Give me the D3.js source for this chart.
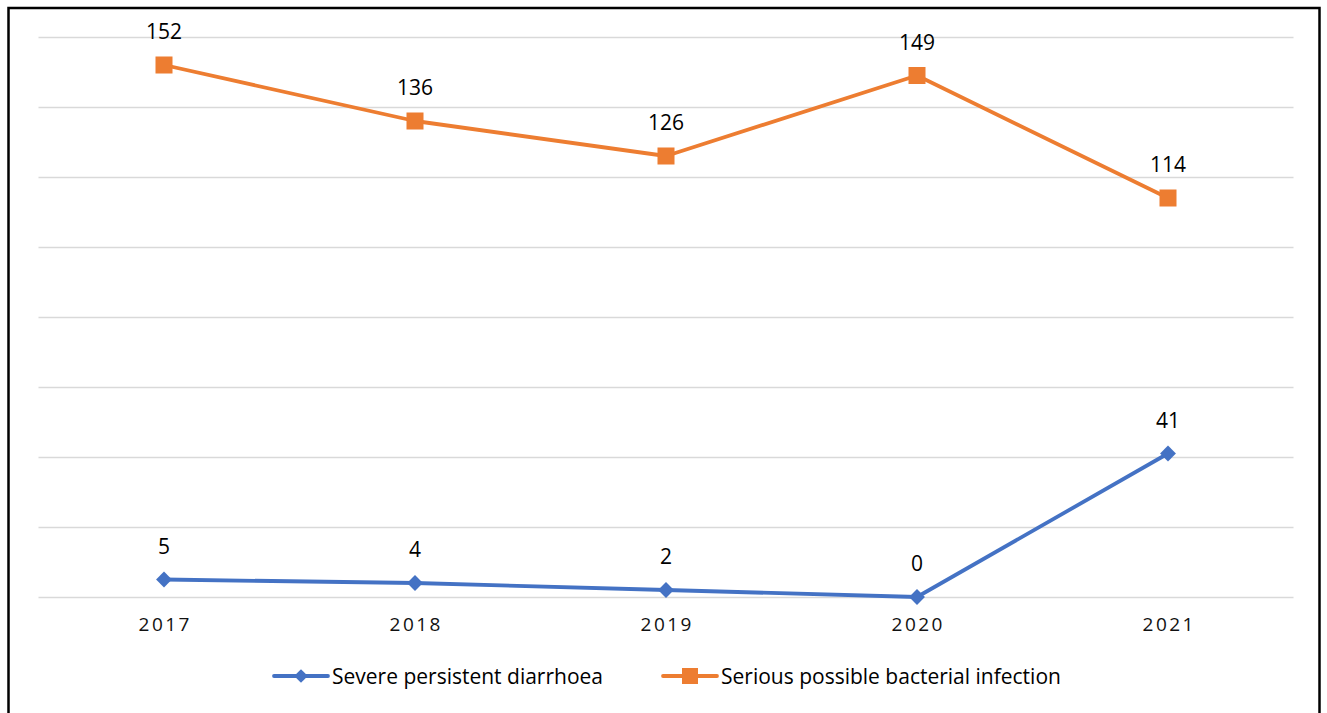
<!DOCTYPE html>
<html><head><meta charset="utf-8">
<script src="https://cdn.jsdelivr.net/npm/d3@7"></script>
<style>body{margin:0;background:#fff;}svg{display:block;}</style>
</head><body>
<svg id="c" width="1327" height="713"></svg>
<script>
const years = ["2017","2018","2019","2020","2021"];
const diarrhoea = [5, 4, 2, 0, 41];
const infection = [152, 136, 126, 149, 114];
const seriesNames = ["Severe persistent diarrhoea", "Serious possible bacterial infection"];
const yTicks = [0,20,40,60,80,100,120,140,160];
const colors = ["#4472C4", "#ED7D31"];

const svg = d3.select("#c");
const font = "'Open Sans', 'Liberation Sans', sans-serif";

// outer frame
svg.append("rect").attr("x", 8.5).attr("y", 8).attr("width", 1311).attr("height", 720)
  .attr("fill", "none").attr("stroke", "#000").attr("stroke-width", 2.5);

const x = d3.scaleBand().domain(years).range([38.5, 1293.5]);
const y = d3.scaleLinear().domain([0, 160]).range([597, 37]);

// gridlines
svg.append("g").attr("transform", "translate(38.5,0)")
  .call(d3.axisLeft(y).tickValues(yTicks).tickSize(-1255).tickFormat(""))
  .call(g => g.select(".domain").remove())
  .call(g => g.selectAll("line").attr("stroke", "#d9d9d9").attr("stroke-width", 1.5));

// x axis labels
svg.append("g").attr("transform", "translate(0,597)")
  .attr("font-size", 19)
  .call(d3.axisBottom(x).tickSize(0).tickPadding(21))
  .attr("font-size", 19).attr("font-family", font)
  .call(g => g.select(".domain").remove())
  .call(g => g.selectAll("text").attr("font-family", font).attr("font-size", 19)
    .attr("fill", "#111").attr("letter-spacing", "2.5px").attr("dx", "1.25px"));

const data = [diarrhoea, infection];
const line = d3.line().x((d, i) => x(years[i]) + x.bandwidth() / 2).y(d => y(d));

data.forEach((vals, s) => {
  svg.append("path").datum(vals).attr("d", line).attr("fill", "none")
    .attr("stroke", colors[s]).attr("stroke-width", 3.8).attr("stroke-linejoin", "round");
  const g = svg.append("g");
  vals.forEach((v, i) => {
    const cx = x(years[i]) + x.bandwidth() / 2, cy = y(v);
    if (s === 0) {
      g.append("path").attr("d", d3.symbol(d3.symbolDiamond2, 160)())
        .attr("transform", `translate(${cx},${cy})`).attr("fill", colors[s]);
    } else {
      g.append("rect").attr("x", cx - 8.5).attr("y", cy - 8.5).attr("width", 17).attr("height", 17)
        .attr("fill", colors[s]);
    }
    g.append("text").attr("x", cx).attr("y", cy - 26).attr("text-anchor", "middle")
      .attr("font-family", font).attr("font-size", 21).attr("fill", "#000").text(v);
  });
});

// legend
const legendItems = [{x: 274, s: 0}, {x: 663, s: 1}];
legendItems.forEach(({x: lx, s}) => {
  const ly = 676;
  svg.append("line").attr("x1", lx).attr("x2", lx + 54).attr("y1", ly).attr("y2", ly)
    .attr("stroke", colors[s]).attr("stroke-width", 3.8).attr("stroke-linecap", "round");
  if (s === 0) {
    svg.append("path").attr("d", d3.symbol(d3.symbolDiamond2, 120)())
      .attr("transform", `translate(${lx + 27},${ly})`).attr("fill", colors[s]);
  } else {
    svg.append("rect").attr("x", lx + 19).attr("y", ly - 8).attr("width", 16).attr("height", 16)
      .attr("fill", colors[s]);
  }
  svg.append("text").attr("x", lx + 58).attr("y", ly + 7.5).attr("font-family", font)
    .attr("font-size", 21).attr("fill", "#000").text(seriesNames[s]);
});
</script>
</body></html>
